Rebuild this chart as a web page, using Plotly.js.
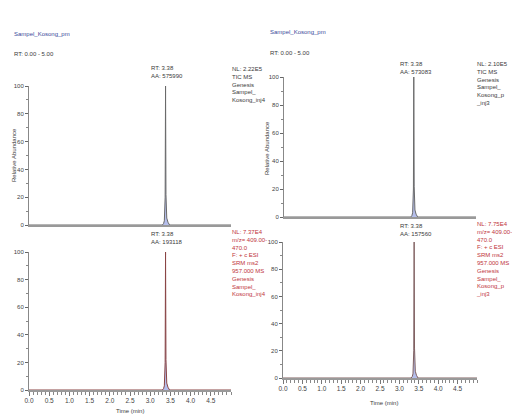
<!DOCTYPE html>
<html>
<head>
<meta charset="utf-8">
<script src="https://cdn.plot.ly/plotly-3.0.1.min.js"></script>
<style>html,body{margin:0;padding:0;background:#fff;}#chart{width:512px;height:417px;}</style>
</head>
<body>
<div id="chart"></div>
<script>
// ---- data ----
const timeMin = [0.00, 3.30, 3.33, 3.35, 3.37, 3.38, 3.39, 3.41, 3.44, 3.48, 5.00];
const ticInj4 = [0, 0, 1, 3, 20, 100, 22, 5, 2, 0, 0];
const srmInj4 = [0, 0, 1, 3, 20, 100, 22, 5, 2, 0, 0];
const ticInj3 = [0, 0, 1, 3, 20, 100, 22, 5, 2, 0, 0];
const srmInj3 = [0, 0, 1, 3, 20, 100, 22, 5, 2, 0, 0];
const yTicks = [0, 20, 40, 60, 80, 100];
const xTicks = [0.0, 0.5, 1.0, 1.5, 2.0, 2.5, 3.0, 3.5, 4.0, 4.5];
const xTickText = ["0.0","0.5","1.0","1.5","2.0","2.5","3.0","3.5","4.0","4.5"];

const W = 512, H = 417;
const fx = p => p / W, fy = p => 1 - p / H;
const FONT = "Liberation Sans, Arial, sans-serif";

function peak(y, xa, ya, color) {
  return {x: timeMin, y: y, xaxis: xa, yaxis: ya, type: 'scatter', mode: 'lines',
    line: {color: color, width: 1}, fill: 'tozeroy', fillcolor: 'rgba(90,110,210,0.45)',
    hoverinfo: 'skip', showlegend: false};
}
const data = [
  peak(ticInj4, 'x', 'y', '#6a6a6a'),
  peak(srmInj4, 'x2', 'y2', '#8a4545'),
  peak(ticInj3, 'x3', 'y3', '#6a6a6a'),
  peak(srmInj3, 'x4', 'y4', '#806060')
];

function yax(d0, d1, anchor) {
  return {domain: [d0, d1], anchor: anchor, range: [0, 100], tickvals: yTicks,
    ticks: 'outside', ticklen: 3, tickwidth: 1, tickcolor: '#666',
    minor: {dtick: 10, ticks: 'outside', ticklen: 2, tickcolor: '#888'},
    showline: true, linecolor: '#888', linewidth: 1, showgrid: false, zeroline: false,
    tickfont: {family: FONT, size: 6, color: '#444'}, fixedrange: true};
}
function xaxTop(d0, d1, anchor) {
  return {domain: [d0, d1], anchor: anchor, range: [0, 5], showticklabels: false, ticks: '',
    showline: true, linecolor: '#999', linewidth: 2, showgrid: false, zeroline: false, fixedrange: true};
}
function xaxBot(d0, d1, anchor) {
  return {domain: [d0, d1], anchor: anchor, range: [0, 5], tickvals: xTicks, ticktext: xTickText,
    ticks: 'outside', ticklen: 4, tickwidth: 1, tickcolor: '#777',
    minor: {dtick: 0.1, ticks: 'outside', ticklen: 3, tickcolor: '#888'},
    showline: true, linecolor: '#999', linewidth: 1.5, showgrid: false, zeroline: false,
    tickfont: {family: FONT, size: 6.5, color: '#444'}, fixedrange: true};
}

function txt(text, x, y, color, opts) {
  return Object.assign({text: text, x: fx(x), y: fy(y), xref: 'paper', yref: 'paper',
    xanchor: 'left', yanchor: 'top', showarrow: false, align: 'left',
    font: {family: FONT, size: 6, color: color}}, opts || {});
}
const grey = '#3a3a3a', red = '#c0343c', blue = '#3a4a9a';
const annotations = [
  // left column
  txt('Sampel_Kosong_pm', 12, 29, blue),
  txt('RT: 0.00 - 5.00', 12, 49, grey),
  txt('RT: 3.38<br>AA: 575990', 149, 63, grey),
  txt('NL: 2.22E5<br>TIC MS<br>Genesis<br>Sampel_<br>Kosong_inj4', 230, 64, grey),
  txt('RT: 3.38<br>AA: 193118', 149, 229, grey),
  txt('NL: 7.37E4<br>m/z= 409.00-<br>470.0<br>F: + c ESI<br>SRM ms2<br>957.000 MS<br>Genesis<br>Sampel_<br>Kosong_inj4', 230, 227, red),
  txt('Relative Abundance', 14, 155, grey, {xanchor: 'center', yanchor: 'middle', textangle: -90}),
  txt('Time (min)', 130, 406, grey, {xanchor: 'center'}),
  // right column
  txt('Sampel_Kosong_pm', 268, 27, blue),
  txt('RT: 0.00 - 5.00', 268, 48, grey),
  txt('RT: 3.38<br>AA: 573083', 398, 59, grey),
  txt('NL: 2.10E5<br>TIC MS<br>Genesis<br>Sampel_<br>Kosong_p<br>_inj3', 474, 59, grey),
  txt('RT: 3.38<br>AA: 157560', 398, 221, grey),
  txt('NL: 7.75E4<br>m/z= 409.00-<br>470.0<br>F: + c ESI<br>SRM ms2<br>957.000 MS<br>Genesis<br>Sampel_<br>Kosong_p<br>_inj3', 474, 219, red),
  txt('Relative Abundance', 267, 148, grey, {xanchor: 'center', yanchor: 'middle', textangle: -90}),
  txt('Time (min)', 384, 398, grey, {xanchor: 'center'})
];

const layout = {
  width: W, height: H, margin: {l: 0, r: 0, t: 0, b: 0},
  paper_bgcolor: '#fff', plot_bgcolor: '#fff', showlegend: false,
  font: {family: FONT, size: 6, color: grey},
  xaxis: xaxTop(fx(29), fx(231), 'y'),
  yaxis: yax(fy(225), fy(86), 'x'),
  xaxis2: xaxBot(fx(29), fx(231), 'y2'),
  yaxis2: yax(fy(390), fy(252), 'x2'),
  xaxis3: xaxTop(fx(284), fx(476), 'y3'),
  yaxis3: yax(fy(217), fy(77), 'x3'),
  xaxis4: xaxBot(fx(283), fx(477), 'y4'),
  yaxis4: yax(fy(378), fy(242), 'x4'),
  annotations: annotations
};
Plotly.newPlot('chart', data, layout, {displayModeBar: false, staticPlot: true});
</script>
</body>
</html>
